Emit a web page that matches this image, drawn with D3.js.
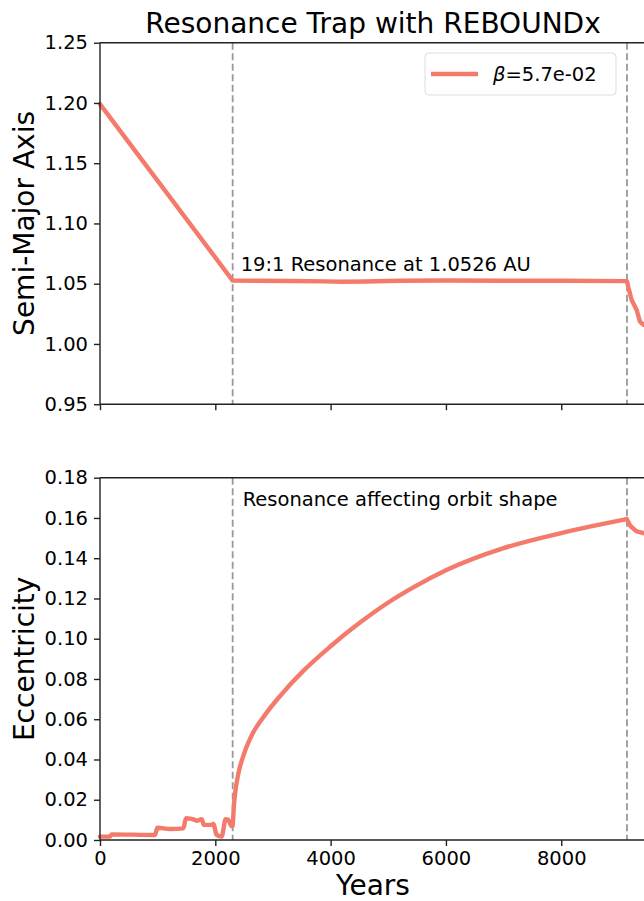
<!DOCTYPE html>
<html>
<head>
<meta charset="utf-8">
<script src="https://cdn.jsdelivr.net/npm/d3@7"></script>
<style>
  html, body { margin: 0; padding: 0; background: #fff; overflow: hidden; }
  text { font-family: "DejaVu Sans", sans-serif; fill: #000; }
  .axis path, .axis line { stroke: #222; stroke-width: 1.4; }
</style>
</head>
<body>
<div id="chart"></div>
<script>
// Semi-major axis over time
const axisYears  = [0, 2301, 2700, 3300, 3900, 4200, 4600, 5200, 6000, 7000, 8000, 9140, 9162, 9221, 9308, 9365, 9435, 9470];
const axisValues = [1.199, 1.0526, 1.0525, 1.0523, 1.0519, 1.0516, 1.0518, 1.0524, 1.0526, 1.0525, 1.0524, 1.0521, 1.0475, 1.0365, 1.0282, 1.0185, 1.0157, 1.0155];

// Eccentricity over time
const eccYears  = [0, 173, 202, 954, 994, 1214, 1445, 1491, 1647, 1676, 1763, 1803, 1936, 1966, 2023, 2110, 2179, 2226, 2266, 2290, 2301,
                   2320, 2345, 2400, 2500, 2650, 2832, 3122, 3526, 3989, 4509, 5000, 5434, 6000, 7000, 8000, 9135, 9200, 9300, 9423, 9470];
const eccValues = [0.0017, 0.0017, 0.0028, 0.0025, 0.0061, 0.0055, 0.0058, 0.0108, 0.0100, 0.0095, 0.0103, 0.0075, 0.0075, 0.0080, 0.0025, 0.0017, 0.0103, 0.0100, 0.0075, 0.0068, 0.0070,
                   0.0160, 0.0235, 0.0330, 0.0430, 0.0530, 0.0610, 0.0715, 0.0840, 0.0960, 0.1080, 0.1180, 0.1255, 0.1340, 0.1450, 0.1525, 0.1594, 0.1560, 0.1535, 0.1525, 0.1522];

const markerYears = [2301, 9140];
const xTicks = [0, 2000, 4000, 6000, 8000];
const axisTicks = [0.95, 1.00, 1.05, 1.10, 1.15, 1.20, 1.25];
const eccTicks = [0, 0.02, 0.04, 0.06, 0.08, 0.10, 0.12, 0.14, 0.16, 0.18];

const lineColor = "#f47a6c";

function createChart() {
    const container = d3.select("#chart");
    container.selectAll("*").remove();

    const svg = container.append("svg")
        .attr("width", 644)
        .attr("height", 901);

    const left = 100, right = 646;
    const eccPeak = d3.maxIndex(eccValues);
    const panels = [
        { top: 42.7, bottom: 404.2, domain: [0.95, 1.25], ticks: axisTicks, label: "Semi-Major Axis", showX: false,
          segments: [{ xs: axisYears, ys: axisValues, curve: d3.curveLinear }] },
        { top: 477.7, bottom: 840, domain: [0, 0.18], ticks: eccTicks, label: "Eccentricity", showX: true,
          segments: [
              { xs: eccYears.slice(0, eccPeak + 1), ys: eccValues.slice(0, eccPeak + 1), curve: d3.curveMonotoneX },
              { xs: eccYears.slice(eccPeak), ys: eccValues.slice(eccPeak), curve: d3.curveLinear }
          ] }
    ];

    const xScale = d3.scaleLinear()
        .domain([0, 9470])
        .range([left, right]);

    panels.forEach(p => {
        const yScale = d3.scaleLinear().domain(p.domain).range([p.bottom, p.top]);

        // marker lines
        svg.selectAll(null)
            .data(markerYears)
            .enter().append("line")
            .attr("x1", d => xScale(d)).attr("x2", d => xScale(d))
            .attr("y1", p.top).attr("y2", p.bottom)
            .style("stroke", "#999")
            .style("stroke-width", 1.8)
            .style("stroke-dasharray", "7,3.5");

        // data line
        p.segments.forEach(s => {
            const pts = s.xs.map((x, i) => [x, s.ys[i]]);
            svg.append("path")
                .datum(pts)
                .attr("d", d3.line()
                    .x(d => xScale(d[0]))
                    .y(d => yScale(d[1]))
                    .curve(s.curve))
                .style("fill", "none")
                .style("stroke", lineColor)
                .style("stroke-width", 4.4)
                .style("stroke-linejoin", "round")
                .style("stroke-linecap", "round");
        });

        // axes
        const xAxis = svg.append("g")
            .attr("class", "axis")
            .attr("transform", `translate(0,${p.bottom})`)
            .call(d3.axisBottom(xScale).tickValues(xTicks).tickSize(6).tickPadding(5)
                .tickFormat(p.showX ? d3.format("d") : ""));
        xAxis.select(".domain").attr("d", `M${left},0H${right}`);
        xAxis.selectAll("text").style("font-size", "19.5px");

        const yAxis = svg.append("g")
            .attr("class", "axis")
            .attr("transform", `translate(${left},0)`)
            .call(d3.axisLeft(yScale).tickValues(p.ticks).tickSize(6).tickPadding(6).tickFormat(d3.format(".2f")));
        yAxis.select(".domain").attr("d", `M0,${p.top}V${p.bottom}`);
        yAxis.selectAll("text").style("font-size", "19.5px");

        // top spine
        svg.append("line")
            .attr("x1", left).attr("x2", right)
            .attr("y1", p.top).attr("y2", p.top)
            .style("stroke", "#222").style("stroke-width", 1.4);

        // y label
        svg.append("text")
            .attr("transform", `translate(34,${(p.top + p.bottom) / 2}) rotate(-90)`)
            .attr("text-anchor", "middle")
            .style("font-size", "28px")
            .text(p.label);
    });

    // title
    svg.append("text")
        .attr("x", (left + right) / 2)
        .attr("y", 33)
        .attr("text-anchor", "middle")
        .style("font-size", "28px")
        .text("Resonance Trap with REBOUNDx");

    // x label
    svg.append("text")
        .attr("x", (left + right) / 2)
        .attr("y", 895)
        .attr("text-anchor", "middle")
        .style("font-size", "28px")
        .text("Years");

    // annotations
    svg.append("text")
        .attr("x", xScale(markerYears[0]) + 8)
        .attr("y", 271)
        .style("font-size", "19.5px")
        .text("19:1 Resonance at 1.0526 AU");

    svg.append("text")
        .attr("x", xScale(markerYears[0]) + 10)
        .attr("y", 506)
        .style("font-size", "19.5px")
        .text("Resonance affecting orbit shape");

    // legend
    const legend = svg.append("g").attr("transform", "translate(425,53)");
    legend.append("rect")
        .attr("width", 191).attr("height", 42).attr("rx", 4)
        .style("fill", "#fff").style("fill-opacity", 0.8)
        .style("stroke", "#ddd").style("stroke-width", 1);
    legend.append("line")
        .attr("x1", 6).attr("x2", 53).attr("y1", 21).attr("y2", 21)
        .style("stroke", lineColor).style("stroke-width", 4.4);
    const lt = legend.append("text")
        .attr("x", 68).attr("y", 28)
        .style("font-size", "19.5px");
    lt.append("tspan").style("font-style", "italic").text("β");
    lt.append("tspan").text("=5.7e-02");
}

createChart();
</script>
</body>
</html>
